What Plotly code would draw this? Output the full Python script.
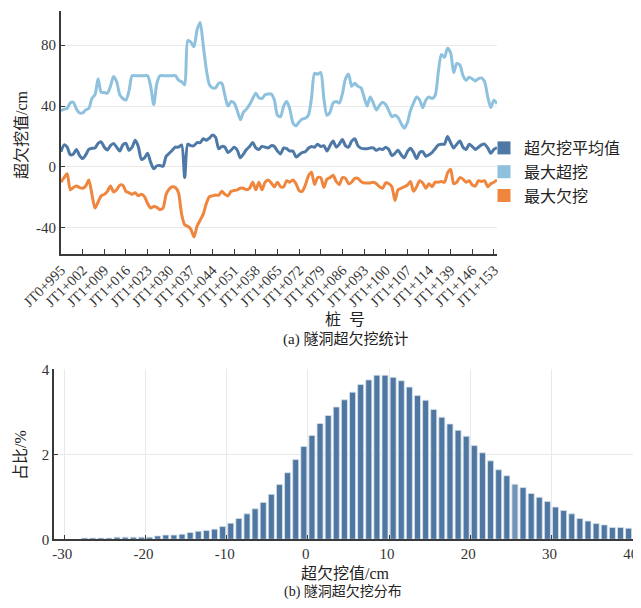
import plotly.graph_objects as go

# page body adds an 8px margin; the figure is sized so that it fits the 641x608 window
OFF = 8
W, H = 641 - OFF, 608 - 2 * OFF

# ---------------- data: top chart ----------------
stations = (["JT0+%d" % k for k in range(995, 1000)]
            + ["JT1+%03d" % k for k in range(0, 115)]
            + ["JT1+%03d" % k for k in range(133, 155)])

tick_labels = ["JT0+995", "JT1+002", "JT1+009", "JT1+016", "JT1+023", "JT1+030",
               "JT1+037", "JT1+044", "JT1+051", "JT1+058", "JT1+065", "JT1+072",
               "JT1+079", "JT1+086", "JT1+093", "JT1+100", "JT1+107", "JT1+114",
               "JT1+139", "JT1+146", "JT1+153"]

mean_vals = [10, 14.5, 13, 8, 8.5, 11.5, 7.5, 5.5, 8, 11.5,
             12.3, 12.5, 15.5, 16.5, 13, 11.2, 14, 15.5, 13, 10.5,
             14.5, 15.5, 11, 13, 17.5, 13.5, 5, 6, 9, 3,
             -1.2, 0.8, 1, 0.5, 7, 9, 11, 13, 13, 14.5,
             -7, 15, 14, 14, 16, 16, 18.5, 17.5, 19, 21,
             19.5, 12, 13.5, 13, 9.5, 11, 13, 11, 6, 8.5,
             11.5, 13.5, 16, 12.5, 11.5, 13.5, 13, 12.5, 14, 13.5,
             10.5, 8.5, 12.5, 12, 10.5, 10.5, 6.5, 8, 9.5, 10,
             12.3, 13.5, 13, 15, 13.5, 14, 10.5, 14, 17, 13,
             15, 18, 14, 13, 17, 18.5, 14, 12.3, 12, 12,
             12.5, 12.5, 11, 12, 11.5, 13, 11.5, 7.5, 9, 11,
             8, 6, 10, 12.3, 9.6, 5.5, 9.5, 10, 7, 8,
             9.5, 12, 14.5, 15, 15, 20, 16, 12.5, 15, 17,
             13, 11.5, 15, 13.4, 11.5, 13, 14.5, 15, 12.5, 9,
             11.5, 12.7]

max_over = [37, 38, 38.5, 42, 42.5, 38, 35.5, 35.5, 37.5, 38.5,
            45, 47.5, 58, 49, 49, 48.5, 53, 59.5, 56, 47.5,
            45, 44, 50, 60, 60, 60, 60, 60, 60, 53,
            41, 55, 60, 60, 60, 60, 60, 60, 57, 56,
            54, 83, 82, 79, 90, 95, 80, 64, 54, 52,
            52, 55, 55, 47, 40, 43, 42, 37, 31, 36,
            38, 41, 45, 48.5, 45.5, 45, 47.5, 48, 48, 44,
            34, 33, 40, 43, 38, 29, 27, 29.5, 31.5, 32,
            34, 45, 61.5, 61, 62, 45, 34, 36, 42, 43,
            42, 48, 58, 61, 53, 55, 53, 52, 46, 40,
            46, 42, 37.5, 40.5, 42.5, 41, 37, 33, 34, 32.5,
            28.5, 25.5, 29, 37, 42, 46, 44, 39, 44, 46,
            45, 47, 62, 74, 72, 78, 75, 62, 68, 67,
            60, 57, 59, 58, 56.5, 58, 58.5, 56, 46, 39,
            44, 41.5]

max_under = [-10, -7, -4.5, -15, -13.5, -12.5, -13.5, -14, -12.5, -8.5,
             -18, -27, -23, -19, -18, -16, -12.5, -16.5, -15, -12,
             -12, -16, -17, -18, -17, -19, -18, -19.5, -24, -27,
             -26, -26.5, -28, -27, -18, -14.5, -13, -13.5, -17, -31,
             -38, -39, -41, -46, -39, -35, -31, -24, -19.5, -19,
             -18.5, -18.5, -16, -18, -19, -16, -15.5, -15, -14, -14,
             -15, -14, -10, -15, -10, -15, -10, -8.5, -10.5, -13,
             -10, -13, -13, -9, -10, -8.5, -11, -15.5, -16, -12,
             -6, -3.5, -11.5, -7, -7, -13.5, -8, -7, -5.5, -9.5,
             -11.5, -7, -7.5, -11, -10, -7.5, -7.5, -9.5, -10.5, -10.5,
             -10.5, -10, -11, -13, -14, -10.5, -11, -13, -22, -15,
             -14, -13, -12, -9.5, -16, -13, -9, -10.5, -14, -11,
             -13, -10, -10, -9.5, -10, -4, -1.5, -11, -10, -7,
             -8, -10, -9, -11.8, -12.5, -9, -9.5, -9, -13, -11,
             -10, -8.5]

series_names = ["超欠挖平均值", "最大超挖", "最大欠挖"]
series_colors = ["#4e78a5", "#8ec1de", "#ee863e"]

# ---------------- data: bottom chart ----------------
bin_centers = [k + 0.5 for k in range(-28, 40)]
bin_pct = [0.03, 0.03, 0.03, 0.03, 0.05, 0.05, 0.05, 0.05, 0.05, 0.08,
           0.10, 0.10, 0.12, 0.16, 0.19, 0.21, 0.24, 0.30, 0.38, 0.49,
           0.60, 0.72, 0.87, 1.06, 1.29, 1.57, 1.88, 2.19, 2.45, 2.73,
           2.92, 3.12, 3.29, 3.47, 3.65, 3.76, 3.87, 3.87, 3.82, 3.74,
           3.59, 3.39, 3.28, 3.06, 2.88, 2.72, 2.57, 2.43, 2.21, 2.04,
           1.85, 1.64, 1.50, 1.30, 1.22, 1.08, 0.99, 0.89, 0.76, 0.68,
           0.60, 0.49, 0.43, 0.37, 0.34, 0.28, 0.28, 0.26]
bar_color = "#4f77a1"
bar_colors = [("#7393b8" if c == 25.5 else bar_color) for c in bin_centers]

FONT = "Liberation Serif, 'Noto Sans CJK SC', serif"
AX = "#3a3a3a"
GRID = "#e9e9e9"

def px_x(p):
    return (p - OFF) / W

def px_y(p):
    return 1 - (p - OFF) / H

fig = go.Figure()

for name, vals, col in zip(series_names, [mean_vals, max_over, max_under], series_colors):
    fig.add_trace(go.Scatter(x=stations, y=vals, mode="lines", name=name,
                             line=dict(color=col, width=3, shape="spline", smoothing=0.7),
                             showlegend=False, xaxis="x", yaxis="y"))
for name, col in zip(series_names, series_colors):
    fig.add_trace(go.Scatter(x=[None], y=[None], mode="markers", name=name,
                             marker=dict(symbol="square", size=13, color=col),
                             xaxis="x", yaxis="y"))

fig.add_trace(go.Bar(x=bin_centers, y=bin_pct, width=0.74,
                     marker=dict(color=bar_colors, line=dict(color="#d6e1ec", width=0.8)),
                     showlegend=False, xaxis="x2", yaxis="y2"))

fig.update_layout(
    width=W, height=H,
    margin=dict(l=0, r=0, t=0, b=0),
    paper_bgcolor="white", plot_bgcolor="white",
    font=dict(family=FONT, size=15, color="#333333"),
    xaxis=dict(domain=[px_x(61), px_x(497)], anchor="y", type="category",
               range=[0, 141], tickmode="array", tickvals=tick_labels,
               ticktext=tick_labels, tickangle=-45,
               tickfont=dict(size=14.5, family=FONT, color="#333333"),
               ticks="inside", ticklen=5, tickcolor=AX, tickwidth=1,
               showline=True, linecolor=AX, linewidth=2, showgrid=False,
               zeroline=False, automargin=False),
    yaxis=dict(domain=[px_y(254), px_y(11)], anchor="x",
               range=[-57.2, 102.5], tickvals=[-40, 0, 40, 80],
               ticktext=["-40", "0", "40", "80"],
               tickfont=dict(size=15, family=FONT, color="#333333"),
               ticks="inside", ticklen=4, tickcolor=AX,
               showline=True, linecolor=AX, linewidth=2,
               showgrid=True, gridcolor=GRID, gridwidth=1, zeroline=False,
               automargin=False),
    xaxis2=dict(domain=[px_x(54.3), px_x(632.9)], anchor="y2",
                range=[-31.23, 40.03], tickvals=[-30, -20, -10, 0, 10, 20, 30, 40],
                ticktext=["-30", "-20", "-10", "0", "10", "20", "30", "40"],
                tickfont=dict(size=15, family=FONT, color="#333333"),
                ticklabeloverflow="allow", ticklabelshift=-2,
                ticks="inside", ticklen=4, tickcolor=AX,
                showline=True, linecolor=AX, linewidth=2,
                showgrid=True, gridcolor=GRID, gridwidth=1, zeroline=False,
                automargin=False),
    yaxis2=dict(domain=[px_y(539.3), px_y(369.3)], anchor="x2",
                range=[0, 4.01], tickvals=[0, 2, 4],
                tickfont=dict(size=15, family=FONT, color="#333333"),
                ticks="inside", ticklen=4, tickcolor=AX,
                showline=True, linecolor=AX, linewidth=2,
                showgrid=True, gridcolor=GRID, gridwidth=1, zeroline=False,
                automargin=False),
    legend=dict(x=px_x(484), y=px_y(131), xanchor="left", yanchor="top",
                font=dict(size=16, family=FONT, color="#222222"),
                bgcolor="rgba(0,0,0,0)", borderwidth=0, tracegroupgap=0,
                itemwidth=30),
    bargap=0.2,
)

ann_font = dict(family=FONT, size=16, color="#222222")
anns = [
    dict(text="超欠挖值/cm", x=px_x(22), y=px_y(135), textangle=-90),
    dict(text="桩  号", x=px_x(345), y=px_y(320), textangle=0),
    dict(text="(a) 隧洞超欠挖统计", x=px_x(345), y=px_y(339), textangle=0, size=15),
    dict(text="占比/%", x=px_x(20), y=px_y(455), textangle=-90),
    dict(text="超欠挖值/cm", x=px_x(345), y=px_y(573), textangle=0),
    dict(text="(b) 隧洞超欠挖分布", x=px_x(343), y=px_y(592), textangle=0, size=14),
]
for a in anns:
    f = dict(ann_font)
    if "size" in a:
        f["size"] = a.pop("size")
    fig.add_annotation(xref="paper", yref="paper", showarrow=False,
                       xanchor="center", yanchor="middle", font=f, **a)

fig.write_html("out.html")
